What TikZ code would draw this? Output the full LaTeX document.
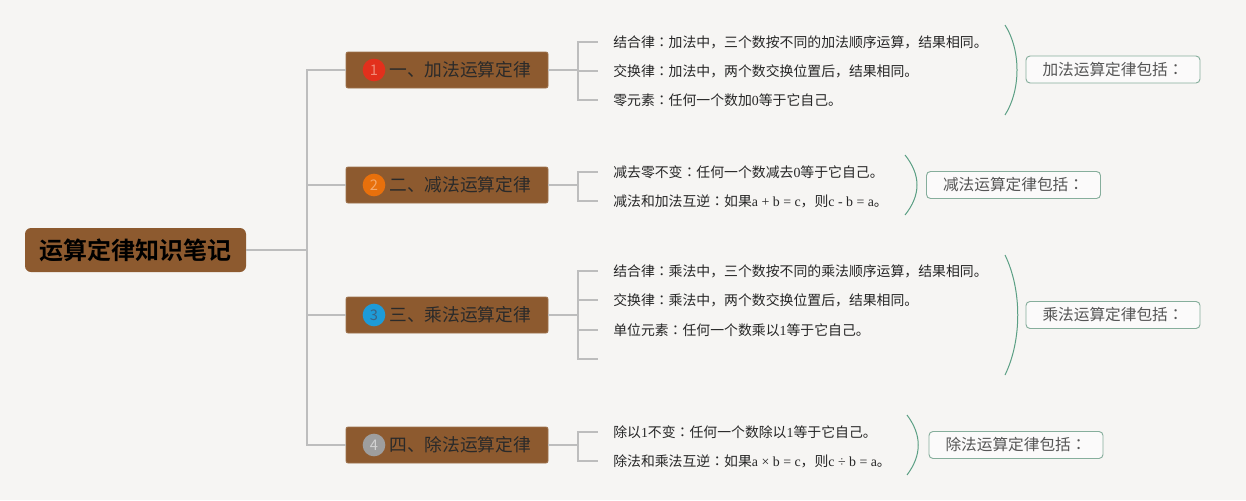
\documentclass[tikz,border=0pt]{standalone}
\usepackage{fontspec}
\setmainfont{Liberation Serif}
\newfontfamily\cjk{Noto Sans CJK SC}
\newfontfamily\cjkjp{Noto Sans CJK JP}
\newfontfamily\cjkbold{Noto Sans CJK SC Bold}
\newcommand{\lt}[1]{{\rmfamily #1}}
\newcommand{\cc}{{\cjkjp ：}}
\definecolor{bg}{HTML}{F6F5F3}
\definecolor{brownbox}{HTML}{8D5A2F}
\definecolor{linegrey}{HTML}{BDBDBD}
\definecolor{tealarc}{HTML}{5B9F84}
\definecolor{sumborder}{HTML}{86AE9C}
\definecolor{sumtext}{HTML}{555555}
\definecolor{topictext}{HTML}{2A2A2A}
\definecolor{cone}{HTML}{E2301C}\definecolor{conel}{HTML}{F08A78}
\definecolor{ctwo}{HTML}{E8700C}\definecolor{ctwol}{HTML}{F5A868}
\definecolor{cthree}{HTML}{1E9BD7}\definecolor{cthreel}{HTML}{3A6486}
\definecolor{cfour}{HTML}{9E9E9E}\definecolor{cfourl}{HTML}{D2D2D2}
\tikzset{
  rootbox/.style={fill=brownbox, rounded corners=4.5pt, minimum width=165.75pt, minimum height=33pt, inner sep=0pt, font=\cjkbold\fontsize{18}{20}\selectfont, text=black},
  topicbox/.style={fill=brownbox, draw=brownbox!85!white, line width=0.6pt, rounded corners=1.5pt, minimum width=151.5pt, minimum height=27pt, inner sep=0pt},
  numc/.style={circle, minimum size=17pt, inner sep=0pt, font=\cjk\fontsize{11}{12}\selectfont},
  topiclabel/.style={anchor=west, inner sep=0pt, font=\cjk\fontsize{13.3}{15}\selectfont, text=topictext},
  leaf/.style={anchor=west, inner sep=0pt, font=\cjk\fontsize{10.4}{12}\selectfont, text=black!85},
  sumbox/.style={draw=sumborder, line width=0.7pt, fill=white!55!bg, rounded corners=3pt, minimum width=130.5pt, minimum height=20.25pt, inner sep=0pt, font=\cjk\fontsize{11.75}{13}\selectfont, text=sumtext},
  conn/.style={draw=linegrey, line width=0.9pt},
  arcline/.style={draw=tealarc, line width=0.75pt},
}
\begin{document}
\begin{tikzpicture}[x=0.75pt,y=-0.75pt]
\fill[bg] (0,0) rectangle (1246,500);
\useasboundingbox (0,0) rectangle (1246,500);

% root
\node[rootbox] (root) at (135.5,250) {运算定律知识笔记};
\coordinate (J) at (307,250);

% topics
\node[topicbox] (t1) at (447,70) {};
\node[topicbox] (t2) at (447,185) {};
\node[topicbox] (t3) at (447,315) {};
\node[topicbox] (t4) at (447,445) {};
\node[numc, fill=cone, text=conel] (n1) at (374,70) {1};
\node[numc, fill=ctwo, text=ctwol] (n2) at (374,185) {2};
\node[numc, fill=cthree, text=cthreel] (n3) at (374,315) {3};
\node[numc, fill=cfour, text=cfourl] (n4) at (374,445) {4};
\node[topiclabel] (tl1) at (389,70) {一、加法运算定律};
\node[topiclabel] (tl2) at (389,185) {二、减法运算定律};
\node[topiclabel] (tl3) at (389,315) {三、乘法运算定律};
\node[topiclabel] (tl4) at (389,445) {四、除法运算定律};

\draw[conn] (root.east) -- (J);
\draw[conn] (J) |- (t1.west);
\draw[conn] (J) |- (t2.west);
\draw[conn] (J) |- (t3.west);
\draw[conn] (J) |- (t4.west);

% leaves
\node[leaf] (l11) at (613,42) {结合律\cc 加法中，三个数按不同的加法顺序运算，结果相同。};
\node[leaf] (l12) at (613,71) {交换律\cc 加法中，两个数交换位置后，结果相同。};
\node[leaf] (l13) at (613,100) {零元素\cc 任何一个数加\lt{0}等于它自己。};
\node[leaf] (l21) at (613,172) {减去零不变\cc 任何一个数减去\lt{0}等于它自己。};
\node[leaf] (l22) at (613,201) {减法和加法互逆\cc 如果\lt{a + b = c}，则\lt{c - b = a}。};
\node[leaf] (l31) at (613,271) {结合律\cc 乘法中，三个数按不同的乘法顺序运算，结果相同。};
\node[leaf] (l32) at (613,300) {交换律\cc 乘法中，两个数交换位置后，结果相同。};
\node[leaf] (l33) at (613,330) {单位元素\cc 任何一个数乘以\lt{1}等于它自己。};
\coordinate (l34) at (613,359);
\node[leaf] (l41) at (613,432) {除以\lt{1}不变\cc 任何一个数除以\lt{1}等于它自己。};
\node[leaf] (l42) at (613,461) {除法和乘法互逆\cc 如果\lt{a × b = c}，则\lt{c ÷ b = a}。};

\coordinate (B1) at (578,70);
\coordinate (B2) at (578,185);
\coordinate (B3) at (578,315);
\coordinate (B4) at (578,445);
\draw[conn] (t1.east) -- (B1);
\draw[conn] (t2.east) -- (B2);
\draw[conn] (t3.east) -- (B3);
\draw[conn] (t4.east) -- (B4);
\draw[conn] (B1) |- ([xshift=-11.25pt]l11.west);
\draw[conn] (B1) |- ([xshift=-11.25pt]l12.west);
\draw[conn] (B1) |- ([xshift=-11.25pt]l13.west);
\draw[conn] (B2) |- ([xshift=-11.25pt]l21.west);
\draw[conn] (B2) |- ([xshift=-11.25pt]l22.west);
\draw[conn] (B3) |- ([xshift=-11.25pt]l31.west);
\draw[conn] (B3) |- ([xshift=-11.25pt]l32.west);
\draw[conn] (B3) |- ([xshift=-11.25pt]l33.west);
\draw[conn] (B3) |- ([xshift=-11.25pt]l34);
\draw[conn] (B4) |- ([xshift=-11.25pt]l41.west);
\draw[conn] (B4) |- ([xshift=-11.25pt]l42.west);

% summary arcs
\draw[arcline] (1005,25) .. controls (1021,50) and (1021,90) .. (1005,115);
\draw[arcline] (905,155) .. controls (921,175) and (921,195) .. (905,215);
\draw[arcline] (1005,255) .. controls (1022,290) and (1022,340) .. (1005,375);
\draw[arcline] (907,415) .. controls (922,435) and (922,455) .. (907,475);

% summary boxes
\node[sumbox] (s1) at (1113,69.5) {加法运算定律包括\cc};
\node[sumbox] (s2) at (1013.5,185) {减法运算定律包括\cc};
\node[sumbox] (s3) at (1113,315) {乘法运算定律包括\cc};
\node[sumbox] (s4) at (1016,445) {除法运算定律包括\cc};
\end{tikzpicture}
\end{document}
